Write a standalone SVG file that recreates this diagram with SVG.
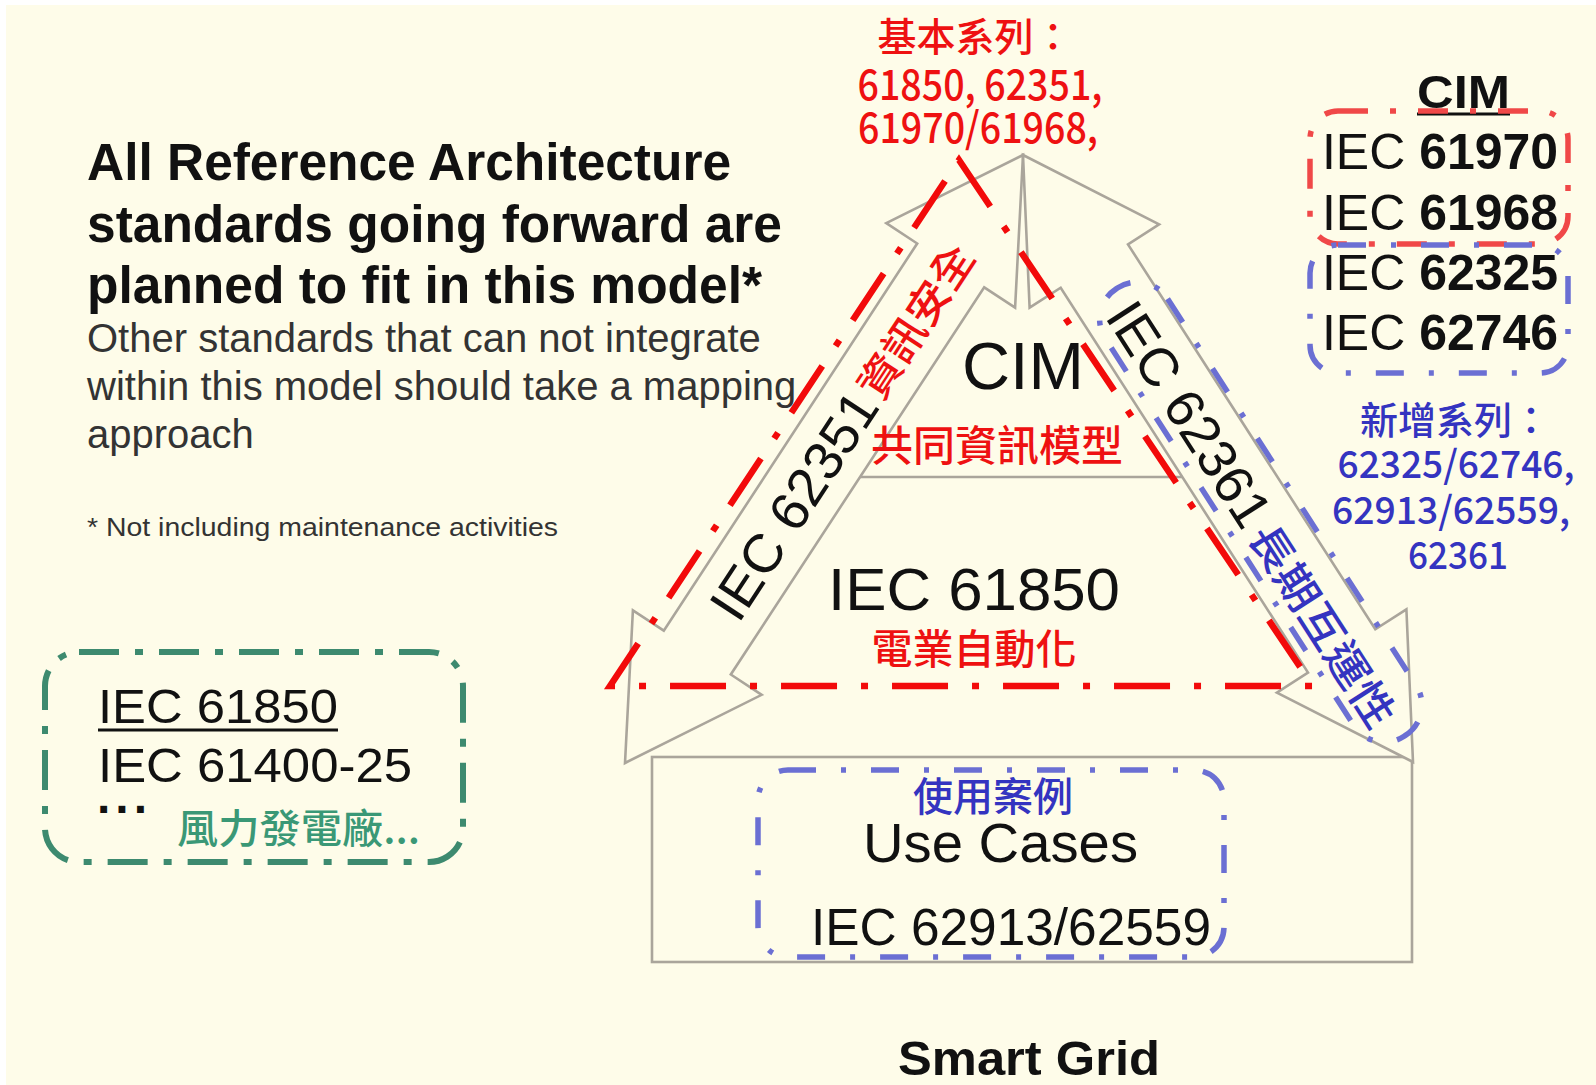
<svg xmlns="http://www.w3.org/2000/svg" width="1596" height="1085" viewBox="0 0 1596 1085">
<style>
.shape{fill:#fefce9;stroke:#aaa59b;stroke-width:2.6;stroke-linejoin:miter}
.en{font-family:"Liberation Sans",Arial,sans-serif;fill:#111}
.b{font-weight:bold}
.cjk{font-family:"Noto Sans CJK TC","Noto Sans CJK SC",sans-serif;font-weight:500}
.red{fill:#ee1111}
.blue{fill:#3434c0}
.green{fill:#3a9876}
.rdash{fill:none;stroke:#f20a0a;stroke-width:6.5;stroke-dasharray:56 24 7 24}
.bdash{fill:none;stroke:#6b6fd3;stroke-width:5.5;stroke-dasharray:28 25 5 25}
.gdash{fill:none;stroke:#3d8a6f;stroke-width:6;stroke-dasharray:40 16 8 16}
.rbox{fill:none;stroke:#f04848;stroke-width:5.5;stroke-dasharray:30 22 6 22}
</style>
<rect x="0" y="0" width="1596" height="1085" fill="#ffffff"/>
<rect x="6" y="5" width="1590" height="1080" fill="#fefce9"/>

<g id="heading">
<text class="en b" x="87" y="180" font-size="51" textLength="644" lengthAdjust="spacingAndGlyphs">All Reference Architecture</text>
<text class="en b" x="87" y="242" font-size="51" textLength="695" lengthAdjust="spacingAndGlyphs">standards going forward are</text>
<text class="en b" x="87" y="303" font-size="51" textLength="675" lengthAdjust="spacingAndGlyphs">planned to fit in this model*</text>
<text class="en" x="87" y="352" font-size="40" style="fill:#333">Other standards that can not integrate</text>
<text class="en" x="87" y="400" font-size="40" style="fill:#333">within this model should take a mapping</text>
<text class="en" x="87" y="448" font-size="40" style="fill:#333">approach</text>
<text class="en" x="87" y="536" font-size="26" style="fill:#333" textLength="471" lengthAdjust="spacingAndGlyphs">* Not including maintenance activities</text>
</g>

<g id="wind-box">
<rect class="gdash" x="45" y="652" width="418" height="210" rx="34"/>
<text class="en" x="98" y="723" font-size="48" textLength="240" lengthAdjust="spacingAndGlyphs">IEC 61850</text>
<line x1="98" y1="730" x2="338" y2="730" stroke="#111" stroke-width="3"/>
<text class="en" x="98" y="782" font-size="48" textLength="314" lengthAdjust="spacingAndGlyphs">IEC 61400-25</text>
<text class="en b" x="97" y="813" font-size="48" letter-spacing="5">...</text>
<text class="cjk green" x="177" y="843" font-size="40" textLength="243" lengthAdjust="spacingAndGlyphs">風力發電廠...</text>
</g>

<g id="base">
<rect class="shape" x="652" y="757" width="760" height="205"/>
</g>

<g id="connectors">
<polygon id="arrow-62351" class="shape" points="625,763 761.7,694.8 730.8,674.5 984.2,287.3 1015.1,307.6 1023,155 886.3,223.2 917.2,243.5 663.8,630.7 632.9,610.4"/>
<polygon id="arrow-62361" class="shape" points="1413,762 1276.9,692.6 1308,672.6 1060.7,287.7 1029.6,307.7 1023,155 1159.1,224.4 1128,244.4 1375.3,629.3 1406.4,609.3"/>
<line x1="860" y1="477" x2="1182" y2="477" stroke="#aaa59b" stroke-width="2.6"/>
</g>

<g id="cim-core">
<text class="en" x="1023" y="389" font-size="66" text-anchor="middle" textLength="122" lengthAdjust="spacingAndGlyphs">CIM</text>
<text class="cjk red" x="997" y="461" font-size="42" text-anchor="middle">共同資訊模型</text>
</g>

<g id="iec61850-core">
<text class="en" x="828" y="610" font-size="60" textLength="292" lengthAdjust="spacingAndGlyphs">IEC 61850</text>
<text class="cjk red" x="974" y="664" font-size="41" text-anchor="middle">電業自動化</text>
</g>

<g id="left-label" transform="translate(625,763) rotate(-56.78)">
<text class="en" x="178" y="19" font-size="54" textLength="260" lengthAdjust="spacingAndGlyphs">IEC 62351</text>
<text class="cjk red" x="442" y="17" font-size="42" textLength="174" lengthAdjust="spacingAndGlyphs">資訊安全</text>
</g>

<g id="right-label" transform="translate(1023,155) rotate(57.28)">
<text class="en" x="180" y="19" font-size="54" textLength="256" lengthAdjust="spacingAndGlyphs">IEC 62361</text>
<text class="cjk blue" x="442" y="18" font-size="42" textLength="232" lengthAdjust="spacingAndGlyphs">長期互運性</text>
<rect class="bdash" x="163" y="-44" width="532" height="74" rx="36"/>
</g>

<g id="basic-series">
<path class="rdash" d="M959,160 L1313,686 L610,686 Z"/>
<text class="cjk red" x="975" y="51" font-size="39" text-anchor="middle">基本系列：</text>
<text class="cjk red" x="980" y="100" font-size="42" text-anchor="middle" textLength="245" lengthAdjust="spacingAndGlyphs">61850, 62351,</text>
<text class="cjk red" x="978" y="143" font-size="42" text-anchor="middle" textLength="240" lengthAdjust="spacingAndGlyphs">61970/61968,</text>
</g>

<g id="use-cases">
<rect class="bdash" x="758" y="770" width="466" height="187" rx="30"/>
<text class="cjk blue" x="993" y="811" font-size="40" text-anchor="middle">使用案例</text>
<text class="en" x="863" y="862" font-size="56" textLength="275" lengthAdjust="spacingAndGlyphs">Use Cases</text>
<text class="en" x="811" y="945" font-size="51" textLength="400" lengthAdjust="spacingAndGlyphs">IEC 62913/62559</text>
</g>

<g id="cim-list">
<text class="en b" x="1417" y="108" font-size="46" textLength="93" lengthAdjust="spacingAndGlyphs">CIM</text>
<line x1="1417" y1="114" x2="1510" y2="114" stroke="#111" stroke-width="3"/>
<rect class="rbox" x="1310" y="111" width="258" height="133" rx="28"/>
<rect class="bdash" x="1310" y="245" width="258" height="128" rx="28"/>
<text class="en" x="1322" y="169" font-size="50" textLength="236" lengthAdjust="spacingAndGlyphs">IEC <tspan class="b">61970</tspan></text>
<text class="en" x="1322" y="230" font-size="50" textLength="236" lengthAdjust="spacingAndGlyphs">IEC <tspan class="b">61968</tspan></text>
<text class="en" x="1322" y="290" font-size="50" textLength="236" lengthAdjust="spacingAndGlyphs">IEC <tspan class="b">62325</tspan></text>
<text class="en" x="1322" y="350" font-size="50" textLength="236" lengthAdjust="spacingAndGlyphs">IEC <tspan class="b">62746</tspan></text>
</g>

<g id="new-series">
<text class="cjk blue" x="1455" y="434" font-size="38" text-anchor="middle">新增系列：</text>
<text class="cjk blue" x="1456" y="478" font-size="38" text-anchor="middle" textLength="237" lengthAdjust="spacingAndGlyphs">62325/62746,</text>
<text class="cjk blue" x="1451" y="524" font-size="38" text-anchor="middle" textLength="238" lengthAdjust="spacingAndGlyphs">62913/62559,</text>
<text class="cjk blue" x="1458" y="569" font-size="38" text-anchor="middle" textLength="100" lengthAdjust="spacingAndGlyphs">62361</text>
</g>

<g id="smart-grid">
<text class="en b" x="898" y="1075" font-size="49" textLength="262" lengthAdjust="spacingAndGlyphs">Smart Grid</text>
</g>
</svg>
